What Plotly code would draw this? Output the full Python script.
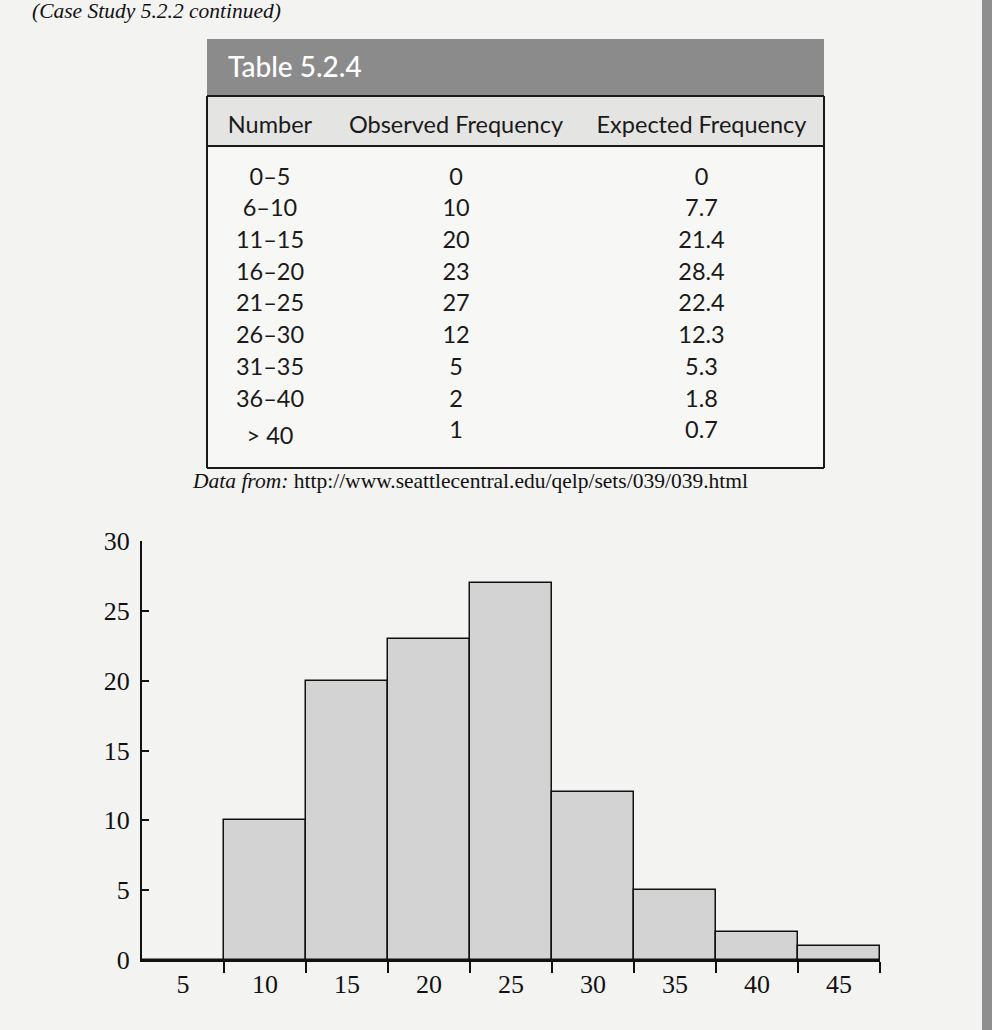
import plotly.graph_objects as go

# ---------------- data ----------------
bins = ["0–5", "6–10", "11–15", "16–20", "21–25", "26–30", "31–35", "36–40", "> 40"]
observed = [0, 10, 20, 23, 27, 12, 5, 2, 1]
expected = ["0", "7.7", "21.4", "28.4", "22.4", "12.3", "5.3", "1.8", "0.7"]
bin_centers = [5, 10, 15, 20, 25, 30, 35, 40, 45]
col_headers = ["Number", "Observed Frequency", "Expected Frequency"]
y_ticks = [0, 5, 10, 15, 20, 25, 30]

W, H = 992, 1030


def px(x):
    return x / W


def py(y):
    return 1 - y / H


fig = go.Figure()

# ---------------- table ----------------
TBL_L, TBL_R = 207, 824
fig.add_trace(go.Table(
    domain=dict(x=[px(TBL_L), px(TBL_R)], y=[py(468), py(107)]),
    columnwidth=[126, 246, 245],
    header=dict(
        values=col_headers,
        fill_color="rgba(0,0,0,0)",
        line=dict(color="rgba(0,0,0,0)", width=0),
        align="center",
        font=dict(family="Lato", size=23.5, color="#1a1a1a"),
        height=52,
    ),
    cells=dict(
        values=[bins, [str(v) for v in observed], expected],
        fill_color="rgba(0,0,0,0)",
        line=dict(color="rgba(0,0,0,0)", width=0),
        align="center",
        font=dict(family="Lato", size=23.5, color="#1a1a1a"),
        height=31.7,
    ),
))

# ---------------- histogram ----------------
fig.add_trace(go.Bar(
    x=bin_centers,
    y=observed,
    width=5,
    marker=dict(color="#d3d3d3", line=dict(color="#111111", width=1.5)),
    xaxis="x", yaxis="y",
    showlegend=False,
    hoverinfo="x+y",
))

fig.update_layout(
    width=W, height=H,
    margin=dict(l=0, r=0, t=0, b=0, autoexpand=False),
    paper_bgcolor="#f3f3f1",
    plot_bgcolor="rgba(0,0,0,0)",
    showlegend=False,
    bargap=0,
    xaxis=dict(
        domain=[px(142), px(880)],
        range=[2.5, 47.5],
        tickmode="array",
        tickvals=bin_centers,
        ticktext=[str(v) for v in bin_centers],
        ticks="",
        showline=True, linecolor="#111111", linewidth=2,
        showgrid=False, zeroline=False,
        automargin=False,
        tickfont=dict(family="Liberation Serif", size=26, color="#111111"),
        minor=dict(tickmode="array", tickvals=[c + 2.5 for c in bin_centers],
                   ticks="outside", ticklen=11, tickwidth=1.5, tickcolor="#111111"),
        fixedrange=True,
    ),
    yaxis=dict(
        domain=[py(960), py(541)],
        range=[0, 30],
        tickmode="array",
        tickvals=y_ticks,
        ticks="inside", ticklen=7, tickwidth=2, tickcolor="#111111",
        showline=True, linecolor="#111111", linewidth=2,
        showgrid=False, zeroline=False,
        automargin=False,
        tickfont=dict(family="Liberation Serif", size=26, color="#111111"),
        ticklabelstandoff=5,
        fixedrange=True,
    ),
)

shapes = []
# grey title band
shapes.append(dict(type="rect", xref="paper", yref="paper",
                   x0=px(TBL_L), x1=px(TBL_R), y0=py(96), y1=py(39),
                   fillcolor="#8b8b8b", line=dict(width=0), layer="below"))
# header row background
shapes.append(dict(type="rect", xref="paper", yref="paper",
                   x0=px(TBL_L), x1=px(TBL_R), y0=py(146), y1=py(96),
                   fillcolor="#e4e4e2", line=dict(width=0), layer="below"))
# body background
shapes.append(dict(type="rect", xref="paper", yref="paper",
                   x0=px(TBL_L), x1=px(TBL_R), y0=py(468), y1=py(146),
                   fillcolor="#f7f7f5", line=dict(width=0), layer="below"))
# table rules
line_k = dict(color="#1a1a1a", width=2)
for yy in (96, 146, 468):
    shapes.append(dict(type="line", xref="paper", yref="paper",
                       x0=px(TBL_L), x1=px(TBL_R), y0=py(yy), y1=py(yy), line=line_k))
for xx in (TBL_L, TBL_R):
    shapes.append(dict(type="line", xref="paper", yref="paper",
                       x0=px(xx), x1=px(xx), y0=py(96), y1=py(468), line=line_k))
# dark page edge
shapes.append(dict(type="rect", xref="paper", yref="paper",
                   x0=px(982), x1=1, y0=0, y1=1,
                   fillcolor="#8e8e8e", line=dict(width=0), layer="below"))
fig.update_layout(shapes=shapes)

annotations = [
    dict(text="<i>(Case Study 5.2.2 continued)</i>", xref="paper", yref="paper",
         x=px(30), y=py(11), xanchor="left", yanchor="middle", showarrow=False,
         font=dict(family="Liberation Serif", size=21.5, color="#111111")),
    dict(text="Table 5.2.4", xref="paper", yref="paper",
         x=px(226), y=py(66), xanchor="left", yanchor="middle", showarrow=False,
         font=dict(family="Lato", size=28, color="#ffffff", weight=500)),
    dict(text="<i>Data from:</i> http://www.seattlecentral.edu/qelp/sets/039/039.html",
         xref="paper", yref="paper",
         x=px(470), y=py(481), xanchor="center", yanchor="middle", showarrow=False,
         font=dict(family="Liberation Serif", size=21.5, color="#111111")),
]
fig.update_layout(annotations=annotations)

fig.write_html("out.html")
